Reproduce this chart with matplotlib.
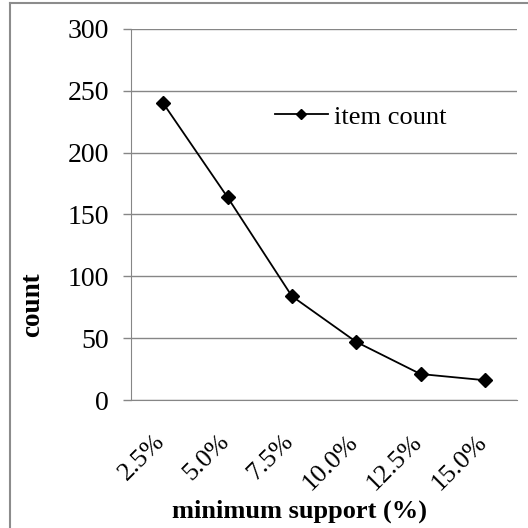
import matplotlib
matplotlib.use("Agg")
import matplotlib.pyplot as plt
import matplotlib.transforms as mtransforms
from matplotlib.lines import Line2D

# data
support = ["2.5%", "5.0%", "7.5%", "10.0%", "12.5%", "15.0%"]
item_count = [240, 164, 84, 47, 21, 16]
y_ticks = [0, 50, 100, 150, 200, 250, 300]

plt.rcParams['font.family'] = ['Liberation Serif', 'DejaVu Serif']
grey = "#868686"

fig = plt.figure(figsize=(5.28, 5.28), dpi=100)
ax = fig.add_axes([131/528, 1 - 400/528, 386/528, 371/528])

x = list(range(len(support)))
ax.plot(x, item_count, color="black", lw=1.3, marker="D", ms=7.5,
        label="item count")

ax.set_xlim(-0.5, len(support) - 0.5)
ax.set_ylim(0, 300)
ax.set_yticks(y_ticks)
ax.set_xticks(x)
ax.set_xticklabels(support, rotation=45, ha="right", va="top")
ax.grid(axis="y", color=grey, lw=1)
ax.set_axisbelow(True)

for s in ["top", "right"]:
    ax.spines[s].set_visible(False)
ax.spines["left"].set_color(grey)
ax.spines["bottom"].set_color(grey)
ax.tick_params(axis="y", colors=grey, length=6, width=1, pad=10, labelsize=20,
               labelcolor="black")
ax.tick_params(axis="x", length=0, pad=22, labelsize=19)

# shift x tick labels slightly right like the original
off = mtransforms.ScaledTranslation(6/100, 0, fig.dpi_scale_trans)
for lab in ax.get_xticklabels():
    lab.set_transform(lab.get_transform() + off)

ax.legend(loc="center left", bbox_to_anchor=(0.373, 0.763), frameon=False,
          fontsize=19, borderpad=0, borderaxespad=0, handlelength=2.0,
          handletextpad=0.25, markerscale=0.65)

fig.text(33/528, 1 - 305/528, "count", rotation=90, fontsize=19.5,
         fontweight="bold", ha="center", va="center")
fig.text(299/528, 1 - 511/528, "minimum support (%)", fontsize=19,
         fontweight="bold", ha="center", va="center")

# chart border (left and top edges visible)
fig.add_artist(Line2D([10/528, 10/528], [0, 1 - 3/528], color="#8c8c8c",
                      lw=1.5, transform=fig.transFigure))
fig.add_artist(Line2D([10/528, 1], [1 - 3/528, 1 - 3/528], color="#8c8c8c",
                      lw=1.5, transform=fig.transFigure))

fig.savefig("out.png", dpi=100)
